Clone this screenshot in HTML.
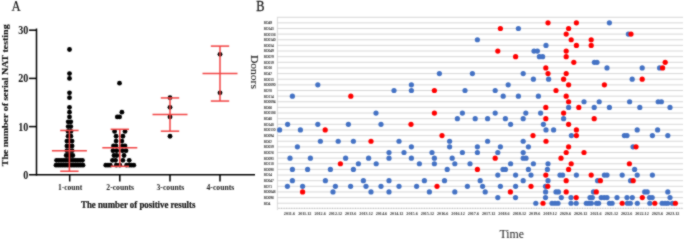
<!DOCTYPE html>
<html><head><meta charset="utf-8"><style>
html,body{margin:0;padding:0;background:#fff;}
body{width:685px;height:240px;overflow:hidden;font-family:"Liberation Serif",serif;}
svg{display:block;will-change:transform;}
</style></head><body>
<svg width="685" height="240" viewBox="0 0 685 240">
<defs><filter id="soft" x="0" y="0" width="685" height="240" filterUnits="userSpaceOnUse" color-interpolation-filters="sRGB"><feConvolveMatrix order="3" kernelMatrix="1 2 1 2 12 2 1 2 1" divisor="24" edgeMode="duplicate" preserveAlpha="true"/></filter></defs>
<g filter="url(#soft)">
<rect width="685" height="240" fill="#fff"/>
<text transform="translate(11.6,10.8) scale(0.9,1)" font-family="Liberation Serif" font-size="14.2" fill="#1a1a1a" stroke="#1a1a1a" stroke-width="0.2">A</text>
<line x1="36.5" y1="28.50" x2="36.5" y2="175.55" stroke="#000" stroke-width="1.5"/>
<line x1="29" y1="174.8" x2="255" y2="174.8" stroke="#000" stroke-width="1.5"/>
<line x1="29" y1="126.60" x2="36.5" y2="126.60" stroke="#000" stroke-width="1.5"/>
<line x1="29" y1="78.40" x2="36.5" y2="78.40" stroke="#000" stroke-width="1.5"/>
<line x1="29" y1="30.20" x2="36.5" y2="30.20" stroke="#000" stroke-width="1.5"/>
<text transform="translate(28.3,178.85) scale(0.86,1)" text-anchor="end" font-family="Liberation Serif" font-weight="bold" font-size="11.8" fill="#151515">0</text>
<text transform="translate(28.3,130.65) scale(0.86,1)" text-anchor="end" font-family="Liberation Serif" font-weight="bold" font-size="11.8" fill="#151515">10</text>
<text transform="translate(28.3,82.45) scale(0.86,1)" text-anchor="end" font-family="Liberation Serif" font-weight="bold" font-size="11.8" fill="#151515">20</text>
<text transform="translate(28.3,34.25) scale(0.86,1)" text-anchor="end" font-family="Liberation Serif" font-weight="bold" font-size="11.8" fill="#151515">30</text>
<line x1="69.7" y1="174.8" x2="69.7" y2="181.5" stroke="#000" stroke-width="1.5"/>
<text x="70.10" y="190.2" text-anchor="middle" textLength="24.4" lengthAdjust="spacingAndGlyphs" font-family="Liberation Serif" font-weight="bold" font-size="8.2" fill="#222">1-count</text>
<line x1="119.8" y1="174.8" x2="119.8" y2="181.5" stroke="#000" stroke-width="1.5"/>
<text x="120.20" y="190.2" text-anchor="middle" textLength="27.8" lengthAdjust="spacingAndGlyphs" font-family="Liberation Serif" font-weight="bold" font-size="8.2" fill="#222">2-counts</text>
<line x1="170" y1="174.8" x2="170" y2="181.5" stroke="#000" stroke-width="1.5"/>
<text x="170.40" y="190.2" text-anchor="middle" textLength="27.8" lengthAdjust="spacingAndGlyphs" font-family="Liberation Serif" font-weight="bold" font-size="8.2" fill="#222">3-counts</text>
<line x1="220" y1="174.8" x2="220" y2="181.5" stroke="#000" stroke-width="1.5"/>
<text x="220.40" y="190.2" text-anchor="middle" textLength="27.8" lengthAdjust="spacingAndGlyphs" font-family="Liberation Serif" font-weight="bold" font-size="8.2" fill="#222">4-counts</text>
<text x="81" y="208" textLength="114.4" lengthAdjust="spacingAndGlyphs" font-family="Liberation Serif" font-weight="bold" font-size="9.4" fill="#111" stroke="#111" stroke-width="0.2">The number of positive results</text>
<text transform="translate(8.1,166.2) scale(0.88,1) rotate(-90)" x="0" y="0" textLength="141.8" lengthAdjust="spacingAndGlyphs" font-family="Liberation Serif" font-weight="bold" font-size="9.9" fill="#111" stroke="#111" stroke-width="0.15">The number of serial NAT testing</text>
<circle cx="69.50" cy="49.48" r="2.4" fill="#000"/>
<circle cx="69.50" cy="73.58" r="2.4" fill="#000"/>
<circle cx="69.50" cy="78.40" r="2.4" fill="#000"/>
<circle cx="69.50" cy="92.86" r="2.4" fill="#000"/>
<circle cx="69.50" cy="97.68" r="2.4" fill="#000"/>
<circle cx="69.50" cy="107.32" r="2.4" fill="#000"/>
<circle cx="69.50" cy="112.14" r="2.4" fill="#000"/>
<circle cx="69.50" cy="116.96" r="2.4" fill="#000"/>
<circle cx="68.20" cy="121.78" r="2.4" fill="#000"/>
<circle cx="70.80" cy="121.78" r="2.4" fill="#000"/>
<circle cx="68.20" cy="126.60" r="2.4" fill="#000"/>
<circle cx="70.80" cy="126.60" r="2.4" fill="#000"/>
<circle cx="68.10" cy="131.42" r="2.4" fill="#000"/>
<circle cx="70.90" cy="131.42" r="2.4" fill="#000"/>
<circle cx="68.10" cy="136.24" r="2.4" fill="#000"/>
<circle cx="70.90" cy="136.24" r="2.4" fill="#000"/>
<circle cx="66.90" cy="141.06" r="2.4" fill="#000"/>
<circle cx="69.50" cy="141.06" r="2.4" fill="#000"/>
<circle cx="72.10" cy="141.06" r="2.4" fill="#000"/>
<circle cx="66.90" cy="145.88" r="2.4" fill="#000"/>
<circle cx="69.50" cy="145.88" r="2.4" fill="#000"/>
<circle cx="72.10" cy="145.88" r="2.4" fill="#000"/>
<circle cx="66.90" cy="150.70" r="2.4" fill="#000"/>
<circle cx="69.50" cy="150.70" r="2.4" fill="#000"/>
<circle cx="72.10" cy="150.70" r="2.4" fill="#000"/>
<circle cx="66.20" cy="155.52" r="2.4" fill="#000"/>
<circle cx="68.40" cy="155.52" r="2.4" fill="#000"/>
<circle cx="70.60" cy="155.52" r="2.4" fill="#000"/>
<circle cx="72.80" cy="155.52" r="2.4" fill="#000"/>
<circle cx="56.58" cy="160.34" r="2.4" fill="#000"/>
<circle cx="58.92" cy="160.34" r="2.4" fill="#000"/>
<circle cx="61.27" cy="160.34" r="2.4" fill="#000"/>
<circle cx="63.62" cy="160.34" r="2.4" fill="#000"/>
<circle cx="65.97" cy="160.34" r="2.4" fill="#000"/>
<circle cx="68.33" cy="160.34" r="2.4" fill="#000"/>
<circle cx="70.67" cy="160.34" r="2.4" fill="#000"/>
<circle cx="73.03" cy="160.34" r="2.4" fill="#000"/>
<circle cx="75.38" cy="160.34" r="2.4" fill="#000"/>
<circle cx="77.72" cy="160.34" r="2.4" fill="#000"/>
<circle cx="80.08" cy="160.34" r="2.4" fill="#000"/>
<circle cx="82.42" cy="160.34" r="2.4" fill="#000"/>
<circle cx="56.00" cy="165.16" r="2.4" fill="#000"/>
<circle cx="58.25" cy="165.16" r="2.4" fill="#000"/>
<circle cx="60.50" cy="165.16" r="2.4" fill="#000"/>
<circle cx="62.75" cy="165.16" r="2.4" fill="#000"/>
<circle cx="65.00" cy="165.16" r="2.4" fill="#000"/>
<circle cx="67.25" cy="165.16" r="2.4" fill="#000"/>
<circle cx="69.50" cy="165.16" r="2.4" fill="#000"/>
<circle cx="71.75" cy="165.16" r="2.4" fill="#000"/>
<circle cx="74.00" cy="165.16" r="2.4" fill="#000"/>
<circle cx="76.25" cy="165.16" r="2.4" fill="#000"/>
<circle cx="78.50" cy="165.16" r="2.4" fill="#000"/>
<circle cx="80.75" cy="165.16" r="2.4" fill="#000"/>
<circle cx="83.00" cy="165.16" r="2.4" fill="#000"/>
<circle cx="119.50" cy="83.22" r="2.4" fill="#000"/>
<circle cx="121.90" cy="112.14" r="2.4" fill="#000"/>
<circle cx="117.30" cy="116.96" r="2.4" fill="#000"/>
<circle cx="119.60" cy="116.96" r="2.4" fill="#000"/>
<circle cx="114.60" cy="131.42" r="2.4" fill="#000"/>
<circle cx="125.00" cy="131.42" r="2.4" fill="#000"/>
<circle cx="116.10" cy="136.24" r="2.4" fill="#000"/>
<circle cx="122.90" cy="136.24" r="2.4" fill="#000"/>
<circle cx="116.10" cy="141.06" r="2.4" fill="#000"/>
<circle cx="121.90" cy="141.06" r="2.4" fill="#000"/>
<circle cx="113.50" cy="145.88" r="2.4" fill="#000"/>
<circle cx="116.00" cy="145.88" r="2.4" fill="#000"/>
<circle cx="122.50" cy="145.88" r="2.4" fill="#000"/>
<circle cx="125.00" cy="145.88" r="2.4" fill="#000"/>
<circle cx="113.00" cy="150.70" r="2.4" fill="#000"/>
<circle cx="116.70" cy="150.70" r="2.4" fill="#000"/>
<circle cx="122.40" cy="150.70" r="2.4" fill="#000"/>
<circle cx="126.00" cy="150.70" r="2.4" fill="#000"/>
<circle cx="114.00" cy="155.52" r="2.4" fill="#000"/>
<circle cx="116.80" cy="155.52" r="2.4" fill="#000"/>
<circle cx="124.00" cy="155.52" r="2.4" fill="#000"/>
<circle cx="112.50" cy="160.34" r="2.4" fill="#000"/>
<circle cx="115.60" cy="160.34" r="2.4" fill="#000"/>
<circle cx="122.90" cy="160.34" r="2.4" fill="#000"/>
<circle cx="129.20" cy="160.34" r="2.4" fill="#000"/>
<circle cx="105.80" cy="165.16" r="2.4" fill="#000"/>
<circle cx="108.00" cy="165.16" r="2.4" fill="#000"/>
<circle cx="110.30" cy="165.16" r="2.4" fill="#000"/>
<circle cx="116.30" cy="165.16" r="2.4" fill="#000"/>
<circle cx="119.80" cy="165.16" r="2.4" fill="#000"/>
<circle cx="126.60" cy="165.16" r="2.4" fill="#000"/>
<circle cx="129.30" cy="165.16" r="2.4" fill="#000"/>
<circle cx="131.60" cy="165.16" r="2.4" fill="#000"/>
<circle cx="133.80" cy="165.16" r="2.4" fill="#000"/>
<circle cx="170.00" cy="97.68" r="2.4" fill="#000"/>
<circle cx="170.00" cy="107.32" r="2.4" fill="#000"/>
<circle cx="170.00" cy="116.96" r="2.4" fill="#000"/>
<circle cx="170.00" cy="136.24" r="2.4" fill="#000"/>
<circle cx="220.00" cy="54.30" r="2.4" fill="#000"/>
<circle cx="220.00" cy="92.86" r="2.4" fill="#000"/>
<line x1="69.4" y1="130.46" x2="69.4" y2="171.23" stroke="#f24444" stroke-width="1.5"/>
<line x1="60.2" y1="130.46" x2="78.60000000000001" y2="130.46" stroke="#f24444" stroke-width="1.5"/>
<line x1="60.2" y1="171.23" x2="78.60000000000001" y2="171.23" stroke="#f24444" stroke-width="1.5"/>
<line x1="51.900000000000006" y1="150.84" x2="86.9" y2="150.84" stroke="#f24444" stroke-width="1.5"/>
<line x1="119.8" y1="129.30" x2="119.8" y2="166.32" stroke="#f24444" stroke-width="1.5"/>
<line x1="110.6" y1="129.30" x2="129.0" y2="129.30" stroke="#f24444" stroke-width="1.5"/>
<line x1="110.6" y1="166.32" x2="129.0" y2="166.32" stroke="#f24444" stroke-width="1.5"/>
<line x1="102.3" y1="147.81" x2="137.3" y2="147.81" stroke="#f24444" stroke-width="1.5"/>
<line x1="170" y1="97.92" x2="170" y2="131.18" stroke="#f24444" stroke-width="1.5"/>
<line x1="160.8" y1="97.92" x2="179.2" y2="97.92" stroke="#f24444" stroke-width="1.5"/>
<line x1="160.8" y1="131.18" x2="179.2" y2="131.18" stroke="#f24444" stroke-width="1.5"/>
<line x1="152.5" y1="114.55" x2="187.5" y2="114.55" stroke="#f24444" stroke-width="1.5"/>
<line x1="220" y1="46.11" x2="220" y2="101.05" stroke="#f24444" stroke-width="1.5"/>
<line x1="210.8" y1="46.11" x2="229.2" y2="46.11" stroke="#f24444" stroke-width="1.5"/>
<line x1="210.8" y1="101.05" x2="229.2" y2="101.05" stroke="#f24444" stroke-width="1.5"/>
<line x1="202.5" y1="73.58" x2="237.5" y2="73.58" stroke="#f24444" stroke-width="1.5"/>
<text transform="translate(256.2,10.6) scale(0.85,1)" font-family="Liberation Serif" font-size="14.5" fill="#1a1a1a" stroke="#1a1a1a" stroke-width="0.3">B</text>
<line x1="277" y1="17.3" x2="683" y2="17.3" stroke="#d2d2d2" stroke-width="0.9"/>
<line x1="277" y1="22.85" x2="683" y2="22.85" stroke="#d2d2d2" stroke-width="0.9"/>
<line x1="277" y1="28.49" x2="683" y2="28.49" stroke="#d2d2d2" stroke-width="0.9"/>
<line x1="277" y1="34.12" x2="683" y2="34.12" stroke="#d2d2d2" stroke-width="0.9"/>
<line x1="277" y1="39.76" x2="683" y2="39.76" stroke="#d2d2d2" stroke-width="0.9"/>
<line x1="277" y1="45.40" x2="683" y2="45.40" stroke="#d2d2d2" stroke-width="0.9"/>
<line x1="277" y1="51.03" x2="683" y2="51.03" stroke="#d2d2d2" stroke-width="0.9"/>
<line x1="277" y1="56.67" x2="683" y2="56.67" stroke="#d2d2d2" stroke-width="0.9"/>
<line x1="277" y1="62.31" x2="683" y2="62.31" stroke="#d2d2d2" stroke-width="0.9"/>
<line x1="277" y1="67.95" x2="683" y2="67.95" stroke="#d2d2d2" stroke-width="0.9"/>
<line x1="277" y1="73.58" x2="683" y2="73.58" stroke="#d2d2d2" stroke-width="0.9"/>
<line x1="277" y1="79.22" x2="683" y2="79.22" stroke="#d2d2d2" stroke-width="0.9"/>
<line x1="277" y1="84.86" x2="683" y2="84.86" stroke="#d2d2d2" stroke-width="0.9"/>
<line x1="277" y1="90.49" x2="683" y2="90.49" stroke="#d2d2d2" stroke-width="0.9"/>
<line x1="277" y1="96.13" x2="683" y2="96.13" stroke="#d2d2d2" stroke-width="0.9"/>
<line x1="277" y1="101.77" x2="683" y2="101.77" stroke="#d2d2d2" stroke-width="0.9"/>
<line x1="277" y1="107.41" x2="683" y2="107.41" stroke="#d2d2d2" stroke-width="0.9"/>
<line x1="277" y1="113.04" x2="683" y2="113.04" stroke="#d2d2d2" stroke-width="0.9"/>
<line x1="277" y1="118.68" x2="683" y2="118.68" stroke="#d2d2d2" stroke-width="0.9"/>
<line x1="277" y1="124.32" x2="683" y2="124.32" stroke="#d2d2d2" stroke-width="0.9"/>
<line x1="277" y1="129.95" x2="683" y2="129.95" stroke="#d2d2d2" stroke-width="0.9"/>
<line x1="277" y1="135.59" x2="683" y2="135.59" stroke="#d2d2d2" stroke-width="0.9"/>
<line x1="277" y1="141.23" x2="683" y2="141.23" stroke="#d2d2d2" stroke-width="0.9"/>
<line x1="277" y1="146.86" x2="683" y2="146.86" stroke="#d2d2d2" stroke-width="0.9"/>
<line x1="277" y1="152.50" x2="683" y2="152.50" stroke="#d2d2d2" stroke-width="0.9"/>
<line x1="277" y1="158.14" x2="683" y2="158.14" stroke="#d2d2d2" stroke-width="0.9"/>
<line x1="277" y1="163.77" x2="683" y2="163.77" stroke="#d2d2d2" stroke-width="0.9"/>
<line x1="277" y1="169.41" x2="683" y2="169.41" stroke="#d2d2d2" stroke-width="0.9"/>
<line x1="277" y1="175.05" x2="683" y2="175.05" stroke="#d2d2d2" stroke-width="0.9"/>
<line x1="277" y1="180.69" x2="683" y2="180.69" stroke="#d2d2d2" stroke-width="0.9"/>
<line x1="277" y1="186.32" x2="683" y2="186.32" stroke="#d2d2d2" stroke-width="0.9"/>
<line x1="277" y1="191.96" x2="683" y2="191.96" stroke="#d2d2d2" stroke-width="0.9"/>
<line x1="277" y1="197.60" x2="683" y2="197.60" stroke="#d2d2d2" stroke-width="0.9"/>
<line x1="277" y1="203.23" x2="683" y2="203.23" stroke="#d2d2d2" stroke-width="0.9"/>
<line x1="277.4" y1="17.3" x2="277.4" y2="210.17" stroke="#d0d0d0" stroke-width="0.8"/>
<line x1="277" y1="208.4" x2="683" y2="208.4" stroke="#dcdcdc" stroke-width="0.8"/>
<line x1="279.00" y1="207.7" x2="279.00" y2="209.0" stroke="#b8b8b8" stroke-width="0.8"/>
<line x1="281.55" y1="207.7" x2="281.55" y2="209.0" stroke="#b8b8b8" stroke-width="0.8"/>
<line x1="284.10" y1="207.7" x2="284.10" y2="209.0" stroke="#b8b8b8" stroke-width="0.8"/>
<line x1="286.65" y1="207.7" x2="286.65" y2="209.0" stroke="#b8b8b8" stroke-width="0.8"/>
<line x1="289.20" y1="207.7" x2="289.20" y2="209.0" stroke="#b8b8b8" stroke-width="0.8"/>
<line x1="291.75" y1="207.7" x2="291.75" y2="209.0" stroke="#b8b8b8" stroke-width="0.8"/>
<line x1="294.30" y1="207.7" x2="294.30" y2="209.0" stroke="#b8b8b8" stroke-width="0.8"/>
<line x1="296.85" y1="207.7" x2="296.85" y2="209.0" stroke="#b8b8b8" stroke-width="0.8"/>
<line x1="299.40" y1="207.7" x2="299.40" y2="209.0" stroke="#b8b8b8" stroke-width="0.8"/>
<line x1="301.95" y1="207.7" x2="301.95" y2="209.0" stroke="#b8b8b8" stroke-width="0.8"/>
<line x1="304.50" y1="207.7" x2="304.50" y2="209.0" stroke="#b8b8b8" stroke-width="0.8"/>
<line x1="307.05" y1="207.7" x2="307.05" y2="209.0" stroke="#b8b8b8" stroke-width="0.8"/>
<line x1="309.60" y1="207.7" x2="309.60" y2="209.0" stroke="#b8b8b8" stroke-width="0.8"/>
<line x1="312.15" y1="207.7" x2="312.15" y2="209.0" stroke="#b8b8b8" stroke-width="0.8"/>
<line x1="314.70" y1="207.7" x2="314.70" y2="209.0" stroke="#b8b8b8" stroke-width="0.8"/>
<line x1="317.25" y1="207.7" x2="317.25" y2="209.0" stroke="#b8b8b8" stroke-width="0.8"/>
<line x1="319.80" y1="207.7" x2="319.80" y2="209.0" stroke="#b8b8b8" stroke-width="0.8"/>
<line x1="322.35" y1="207.7" x2="322.35" y2="209.0" stroke="#b8b8b8" stroke-width="0.8"/>
<line x1="324.90" y1="207.7" x2="324.90" y2="209.0" stroke="#b8b8b8" stroke-width="0.8"/>
<line x1="327.45" y1="207.7" x2="327.45" y2="209.0" stroke="#b8b8b8" stroke-width="0.8"/>
<line x1="330.00" y1="207.7" x2="330.00" y2="209.0" stroke="#b8b8b8" stroke-width="0.8"/>
<line x1="332.55" y1="207.7" x2="332.55" y2="209.0" stroke="#b8b8b8" stroke-width="0.8"/>
<line x1="335.10" y1="207.7" x2="335.10" y2="209.0" stroke="#b8b8b8" stroke-width="0.8"/>
<line x1="337.65" y1="207.7" x2="337.65" y2="209.0" stroke="#b8b8b8" stroke-width="0.8"/>
<line x1="340.20" y1="207.7" x2="340.20" y2="209.0" stroke="#b8b8b8" stroke-width="0.8"/>
<line x1="342.75" y1="207.7" x2="342.75" y2="209.0" stroke="#b8b8b8" stroke-width="0.8"/>
<line x1="345.30" y1="207.7" x2="345.30" y2="209.0" stroke="#b8b8b8" stroke-width="0.8"/>
<line x1="347.85" y1="207.7" x2="347.85" y2="209.0" stroke="#b8b8b8" stroke-width="0.8"/>
<line x1="350.40" y1="207.7" x2="350.40" y2="209.0" stroke="#b8b8b8" stroke-width="0.8"/>
<line x1="352.95" y1="207.7" x2="352.95" y2="209.0" stroke="#b8b8b8" stroke-width="0.8"/>
<line x1="355.50" y1="207.7" x2="355.50" y2="209.0" stroke="#b8b8b8" stroke-width="0.8"/>
<line x1="358.05" y1="207.7" x2="358.05" y2="209.0" stroke="#b8b8b8" stroke-width="0.8"/>
<line x1="360.60" y1="207.7" x2="360.60" y2="209.0" stroke="#b8b8b8" stroke-width="0.8"/>
<line x1="363.15" y1="207.7" x2="363.15" y2="209.0" stroke="#b8b8b8" stroke-width="0.8"/>
<line x1="365.70" y1="207.7" x2="365.70" y2="209.0" stroke="#b8b8b8" stroke-width="0.8"/>
<line x1="368.25" y1="207.7" x2="368.25" y2="209.0" stroke="#b8b8b8" stroke-width="0.8"/>
<line x1="370.80" y1="207.7" x2="370.80" y2="209.0" stroke="#b8b8b8" stroke-width="0.8"/>
<line x1="373.35" y1="207.7" x2="373.35" y2="209.0" stroke="#b8b8b8" stroke-width="0.8"/>
<line x1="375.90" y1="207.7" x2="375.90" y2="209.0" stroke="#b8b8b8" stroke-width="0.8"/>
<line x1="378.45" y1="207.7" x2="378.45" y2="209.0" stroke="#b8b8b8" stroke-width="0.8"/>
<line x1="381.00" y1="207.7" x2="381.00" y2="209.0" stroke="#b8b8b8" stroke-width="0.8"/>
<line x1="383.55" y1="207.7" x2="383.55" y2="209.0" stroke="#b8b8b8" stroke-width="0.8"/>
<line x1="386.10" y1="207.7" x2="386.10" y2="209.0" stroke="#b8b8b8" stroke-width="0.8"/>
<line x1="388.65" y1="207.7" x2="388.65" y2="209.0" stroke="#b8b8b8" stroke-width="0.8"/>
<line x1="391.20" y1="207.7" x2="391.20" y2="209.0" stroke="#b8b8b8" stroke-width="0.8"/>
<line x1="393.75" y1="207.7" x2="393.75" y2="209.0" stroke="#b8b8b8" stroke-width="0.8"/>
<line x1="396.30" y1="207.7" x2="396.30" y2="209.0" stroke="#b8b8b8" stroke-width="0.8"/>
<line x1="398.85" y1="207.7" x2="398.85" y2="209.0" stroke="#b8b8b8" stroke-width="0.8"/>
<line x1="401.40" y1="207.7" x2="401.40" y2="209.0" stroke="#b8b8b8" stroke-width="0.8"/>
<line x1="403.95" y1="207.7" x2="403.95" y2="209.0" stroke="#b8b8b8" stroke-width="0.8"/>
<line x1="406.50" y1="207.7" x2="406.50" y2="209.0" stroke="#b8b8b8" stroke-width="0.8"/>
<line x1="409.05" y1="207.7" x2="409.05" y2="209.0" stroke="#b8b8b8" stroke-width="0.8"/>
<line x1="411.60" y1="207.7" x2="411.60" y2="209.0" stroke="#b8b8b8" stroke-width="0.8"/>
<line x1="414.15" y1="207.7" x2="414.15" y2="209.0" stroke="#b8b8b8" stroke-width="0.8"/>
<line x1="416.70" y1="207.7" x2="416.70" y2="209.0" stroke="#b8b8b8" stroke-width="0.8"/>
<line x1="419.25" y1="207.7" x2="419.25" y2="209.0" stroke="#b8b8b8" stroke-width="0.8"/>
<line x1="421.80" y1="207.7" x2="421.80" y2="209.0" stroke="#b8b8b8" stroke-width="0.8"/>
<line x1="424.35" y1="207.7" x2="424.35" y2="209.0" stroke="#b8b8b8" stroke-width="0.8"/>
<line x1="426.90" y1="207.7" x2="426.90" y2="209.0" stroke="#b8b8b8" stroke-width="0.8"/>
<line x1="429.45" y1="207.7" x2="429.45" y2="209.0" stroke="#b8b8b8" stroke-width="0.8"/>
<line x1="432.00" y1="207.7" x2="432.00" y2="209.0" stroke="#b8b8b8" stroke-width="0.8"/>
<line x1="434.55" y1="207.7" x2="434.55" y2="209.0" stroke="#b8b8b8" stroke-width="0.8"/>
<line x1="437.10" y1="207.7" x2="437.10" y2="209.0" stroke="#b8b8b8" stroke-width="0.8"/>
<line x1="439.65" y1="207.7" x2="439.65" y2="209.0" stroke="#b8b8b8" stroke-width="0.8"/>
<line x1="442.20" y1="207.7" x2="442.20" y2="209.0" stroke="#b8b8b8" stroke-width="0.8"/>
<line x1="444.75" y1="207.7" x2="444.75" y2="209.0" stroke="#b8b8b8" stroke-width="0.8"/>
<line x1="447.30" y1="207.7" x2="447.30" y2="209.0" stroke="#b8b8b8" stroke-width="0.8"/>
<line x1="449.85" y1="207.7" x2="449.85" y2="209.0" stroke="#b8b8b8" stroke-width="0.8"/>
<line x1="452.40" y1="207.7" x2="452.40" y2="209.0" stroke="#b8b8b8" stroke-width="0.8"/>
<line x1="454.95" y1="207.7" x2="454.95" y2="209.0" stroke="#b8b8b8" stroke-width="0.8"/>
<line x1="457.50" y1="207.7" x2="457.50" y2="209.0" stroke="#b8b8b8" stroke-width="0.8"/>
<line x1="460.05" y1="207.7" x2="460.05" y2="209.0" stroke="#b8b8b8" stroke-width="0.8"/>
<line x1="462.60" y1="207.7" x2="462.60" y2="209.0" stroke="#b8b8b8" stroke-width="0.8"/>
<line x1="465.15" y1="207.7" x2="465.15" y2="209.0" stroke="#b8b8b8" stroke-width="0.8"/>
<line x1="467.70" y1="207.7" x2="467.70" y2="209.0" stroke="#b8b8b8" stroke-width="0.8"/>
<line x1="470.25" y1="207.7" x2="470.25" y2="209.0" stroke="#b8b8b8" stroke-width="0.8"/>
<line x1="472.80" y1="207.7" x2="472.80" y2="209.0" stroke="#b8b8b8" stroke-width="0.8"/>
<line x1="475.35" y1="207.7" x2="475.35" y2="209.0" stroke="#b8b8b8" stroke-width="0.8"/>
<line x1="477.90" y1="207.7" x2="477.90" y2="209.0" stroke="#b8b8b8" stroke-width="0.8"/>
<line x1="480.45" y1="207.7" x2="480.45" y2="209.0" stroke="#b8b8b8" stroke-width="0.8"/>
<line x1="483.00" y1="207.7" x2="483.00" y2="209.0" stroke="#b8b8b8" stroke-width="0.8"/>
<line x1="485.55" y1="207.7" x2="485.55" y2="209.0" stroke="#b8b8b8" stroke-width="0.8"/>
<line x1="488.10" y1="207.7" x2="488.10" y2="209.0" stroke="#b8b8b8" stroke-width="0.8"/>
<line x1="490.65" y1="207.7" x2="490.65" y2="209.0" stroke="#b8b8b8" stroke-width="0.8"/>
<line x1="493.20" y1="207.7" x2="493.20" y2="209.0" stroke="#b8b8b8" stroke-width="0.8"/>
<line x1="495.75" y1="207.7" x2="495.75" y2="209.0" stroke="#b8b8b8" stroke-width="0.8"/>
<line x1="498.30" y1="207.7" x2="498.30" y2="209.0" stroke="#b8b8b8" stroke-width="0.8"/>
<line x1="500.85" y1="207.7" x2="500.85" y2="209.0" stroke="#b8b8b8" stroke-width="0.8"/>
<line x1="503.40" y1="207.7" x2="503.40" y2="209.0" stroke="#b8b8b8" stroke-width="0.8"/>
<line x1="505.95" y1="207.7" x2="505.95" y2="209.0" stroke="#b8b8b8" stroke-width="0.8"/>
<line x1="508.50" y1="207.7" x2="508.50" y2="209.0" stroke="#b8b8b8" stroke-width="0.8"/>
<line x1="511.05" y1="207.7" x2="511.05" y2="209.0" stroke="#b8b8b8" stroke-width="0.8"/>
<line x1="513.60" y1="207.7" x2="513.60" y2="209.0" stroke="#b8b8b8" stroke-width="0.8"/>
<line x1="516.15" y1="207.7" x2="516.15" y2="209.0" stroke="#b8b8b8" stroke-width="0.8"/>
<line x1="518.70" y1="207.7" x2="518.70" y2="209.0" stroke="#b8b8b8" stroke-width="0.8"/>
<line x1="521.25" y1="207.7" x2="521.25" y2="209.0" stroke="#b8b8b8" stroke-width="0.8"/>
<line x1="523.80" y1="207.7" x2="523.80" y2="209.0" stroke="#b8b8b8" stroke-width="0.8"/>
<line x1="526.35" y1="207.7" x2="526.35" y2="209.0" stroke="#b8b8b8" stroke-width="0.8"/>
<line x1="528.90" y1="207.7" x2="528.90" y2="209.0" stroke="#b8b8b8" stroke-width="0.8"/>
<line x1="531.45" y1="207.7" x2="531.45" y2="209.0" stroke="#b8b8b8" stroke-width="0.8"/>
<line x1="534.00" y1="207.7" x2="534.00" y2="209.0" stroke="#b8b8b8" stroke-width="0.8"/>
<line x1="536.55" y1="207.7" x2="536.55" y2="209.0" stroke="#b8b8b8" stroke-width="0.8"/>
<line x1="539.10" y1="207.7" x2="539.10" y2="209.0" stroke="#b8b8b8" stroke-width="0.8"/>
<line x1="541.65" y1="207.7" x2="541.65" y2="209.0" stroke="#b8b8b8" stroke-width="0.8"/>
<line x1="544.20" y1="207.7" x2="544.20" y2="209.0" stroke="#b8b8b8" stroke-width="0.8"/>
<line x1="546.75" y1="207.7" x2="546.75" y2="209.0" stroke="#b8b8b8" stroke-width="0.8"/>
<line x1="549.30" y1="207.7" x2="549.30" y2="209.0" stroke="#b8b8b8" stroke-width="0.8"/>
<line x1="551.85" y1="207.7" x2="551.85" y2="209.0" stroke="#b8b8b8" stroke-width="0.8"/>
<line x1="554.40" y1="207.7" x2="554.40" y2="209.0" stroke="#b8b8b8" stroke-width="0.8"/>
<line x1="556.95" y1="207.7" x2="556.95" y2="209.0" stroke="#b8b8b8" stroke-width="0.8"/>
<line x1="559.50" y1="207.7" x2="559.50" y2="209.0" stroke="#b8b8b8" stroke-width="0.8"/>
<line x1="562.05" y1="207.7" x2="562.05" y2="209.0" stroke="#b8b8b8" stroke-width="0.8"/>
<line x1="564.60" y1="207.7" x2="564.60" y2="209.0" stroke="#b8b8b8" stroke-width="0.8"/>
<line x1="567.15" y1="207.7" x2="567.15" y2="209.0" stroke="#b8b8b8" stroke-width="0.8"/>
<line x1="569.70" y1="207.7" x2="569.70" y2="209.0" stroke="#b8b8b8" stroke-width="0.8"/>
<line x1="572.25" y1="207.7" x2="572.25" y2="209.0" stroke="#b8b8b8" stroke-width="0.8"/>
<line x1="574.80" y1="207.7" x2="574.80" y2="209.0" stroke="#b8b8b8" stroke-width="0.8"/>
<line x1="577.35" y1="207.7" x2="577.35" y2="209.0" stroke="#b8b8b8" stroke-width="0.8"/>
<line x1="579.90" y1="207.7" x2="579.90" y2="209.0" stroke="#b8b8b8" stroke-width="0.8"/>
<line x1="582.45" y1="207.7" x2="582.45" y2="209.0" stroke="#b8b8b8" stroke-width="0.8"/>
<line x1="585.00" y1="207.7" x2="585.00" y2="209.0" stroke="#b8b8b8" stroke-width="0.8"/>
<line x1="587.55" y1="207.7" x2="587.55" y2="209.0" stroke="#b8b8b8" stroke-width="0.8"/>
<line x1="590.10" y1="207.7" x2="590.10" y2="209.0" stroke="#b8b8b8" stroke-width="0.8"/>
<line x1="592.65" y1="207.7" x2="592.65" y2="209.0" stroke="#b8b8b8" stroke-width="0.8"/>
<line x1="595.20" y1="207.7" x2="595.20" y2="209.0" stroke="#b8b8b8" stroke-width="0.8"/>
<line x1="597.75" y1="207.7" x2="597.75" y2="209.0" stroke="#b8b8b8" stroke-width="0.8"/>
<line x1="600.30" y1="207.7" x2="600.30" y2="209.0" stroke="#b8b8b8" stroke-width="0.8"/>
<line x1="602.85" y1="207.7" x2="602.85" y2="209.0" stroke="#b8b8b8" stroke-width="0.8"/>
<line x1="605.40" y1="207.7" x2="605.40" y2="209.0" stroke="#b8b8b8" stroke-width="0.8"/>
<line x1="607.95" y1="207.7" x2="607.95" y2="209.0" stroke="#b8b8b8" stroke-width="0.8"/>
<line x1="610.50" y1="207.7" x2="610.50" y2="209.0" stroke="#b8b8b8" stroke-width="0.8"/>
<line x1="613.05" y1="207.7" x2="613.05" y2="209.0" stroke="#b8b8b8" stroke-width="0.8"/>
<line x1="615.60" y1="207.7" x2="615.60" y2="209.0" stroke="#b8b8b8" stroke-width="0.8"/>
<line x1="618.15" y1="207.7" x2="618.15" y2="209.0" stroke="#b8b8b8" stroke-width="0.8"/>
<line x1="620.70" y1="207.7" x2="620.70" y2="209.0" stroke="#b8b8b8" stroke-width="0.8"/>
<line x1="623.25" y1="207.7" x2="623.25" y2="209.0" stroke="#b8b8b8" stroke-width="0.8"/>
<line x1="625.80" y1="207.7" x2="625.80" y2="209.0" stroke="#b8b8b8" stroke-width="0.8"/>
<line x1="628.35" y1="207.7" x2="628.35" y2="209.0" stroke="#b8b8b8" stroke-width="0.8"/>
<line x1="630.90" y1="207.7" x2="630.90" y2="209.0" stroke="#b8b8b8" stroke-width="0.8"/>
<line x1="633.45" y1="207.7" x2="633.45" y2="209.0" stroke="#b8b8b8" stroke-width="0.8"/>
<line x1="636.00" y1="207.7" x2="636.00" y2="209.0" stroke="#b8b8b8" stroke-width="0.8"/>
<line x1="638.55" y1="207.7" x2="638.55" y2="209.0" stroke="#b8b8b8" stroke-width="0.8"/>
<line x1="641.10" y1="207.7" x2="641.10" y2="209.0" stroke="#b8b8b8" stroke-width="0.8"/>
<line x1="643.65" y1="207.7" x2="643.65" y2="209.0" stroke="#b8b8b8" stroke-width="0.8"/>
<line x1="646.20" y1="207.7" x2="646.20" y2="209.0" stroke="#b8b8b8" stroke-width="0.8"/>
<line x1="648.75" y1="207.7" x2="648.75" y2="209.0" stroke="#b8b8b8" stroke-width="0.8"/>
<line x1="651.30" y1="207.7" x2="651.30" y2="209.0" stroke="#b8b8b8" stroke-width="0.8"/>
<line x1="653.85" y1="207.7" x2="653.85" y2="209.0" stroke="#b8b8b8" stroke-width="0.8"/>
<line x1="656.40" y1="207.7" x2="656.40" y2="209.0" stroke="#b8b8b8" stroke-width="0.8"/>
<line x1="658.95" y1="207.7" x2="658.95" y2="209.0" stroke="#b8b8b8" stroke-width="0.8"/>
<line x1="661.50" y1="207.7" x2="661.50" y2="209.0" stroke="#b8b8b8" stroke-width="0.8"/>
<line x1="664.05" y1="207.7" x2="664.05" y2="209.0" stroke="#b8b8b8" stroke-width="0.8"/>
<line x1="666.60" y1="207.7" x2="666.60" y2="209.0" stroke="#b8b8b8" stroke-width="0.8"/>
<line x1="669.15" y1="207.7" x2="669.15" y2="209.0" stroke="#b8b8b8" stroke-width="0.8"/>
<line x1="671.70" y1="207.7" x2="671.70" y2="209.0" stroke="#b8b8b8" stroke-width="0.8"/>
<line x1="674.25" y1="207.7" x2="674.25" y2="209.0" stroke="#b8b8b8" stroke-width="0.8"/>
<line x1="676.80" y1="207.7" x2="676.80" y2="209.0" stroke="#b8b8b8" stroke-width="0.8"/>
<line x1="679.35" y1="207.7" x2="679.35" y2="209.0" stroke="#b8b8b8" stroke-width="0.8"/>
<line x1="681.90" y1="207.7" x2="681.90" y2="209.0" stroke="#b8b8b8" stroke-width="0.8"/>
<text transform="translate(289.40,215.1) scale(0.95,1)" text-anchor="middle" font-family="Liberation Serif" font-weight="bold" font-size="4.35" fill="#2a2a2a">2011.6</text>
<text transform="translate(304.73,215.1) scale(0.95,1)" text-anchor="middle" font-family="Liberation Serif" font-weight="bold" font-size="4.35" fill="#2a2a2a">2011.12</text>
<text transform="translate(320.06,215.1) scale(0.95,1)" text-anchor="middle" font-family="Liberation Serif" font-weight="bold" font-size="4.35" fill="#2a2a2a">2012.6</text>
<text transform="translate(335.39,215.1) scale(0.95,1)" text-anchor="middle" font-family="Liberation Serif" font-weight="bold" font-size="4.35" fill="#2a2a2a">2012.12</text>
<text transform="translate(350.72,215.1) scale(0.95,1)" text-anchor="middle" font-family="Liberation Serif" font-weight="bold" font-size="4.35" fill="#2a2a2a">2013.6</text>
<text transform="translate(366.05,215.1) scale(0.95,1)" text-anchor="middle" font-family="Liberation Serif" font-weight="bold" font-size="4.35" fill="#2a2a2a">2013.12</text>
<text transform="translate(381.38,215.1) scale(0.95,1)" text-anchor="middle" font-family="Liberation Serif" font-weight="bold" font-size="4.35" fill="#2a2a2a">2014.6</text>
<text transform="translate(396.71,215.1) scale(0.95,1)" text-anchor="middle" font-family="Liberation Serif" font-weight="bold" font-size="4.35" fill="#2a2a2a">2014.12</text>
<text transform="translate(412.04,215.1) scale(0.95,1)" text-anchor="middle" font-family="Liberation Serif" font-weight="bold" font-size="4.35" fill="#2a2a2a">2015.6</text>
<text transform="translate(427.37,215.1) scale(0.95,1)" text-anchor="middle" font-family="Liberation Serif" font-weight="bold" font-size="4.35" fill="#2a2a2a">2015.12</text>
<text transform="translate(442.70,215.1) scale(0.95,1)" text-anchor="middle" font-family="Liberation Serif" font-weight="bold" font-size="4.35" fill="#2a2a2a">2016.6</text>
<text transform="translate(458.03,215.1) scale(0.95,1)" text-anchor="middle" font-family="Liberation Serif" font-weight="bold" font-size="4.35" fill="#2a2a2a">2016.12</text>
<text transform="translate(473.36,215.1) scale(0.95,1)" text-anchor="middle" font-family="Liberation Serif" font-weight="bold" font-size="4.35" fill="#2a2a2a">2017.6</text>
<text transform="translate(488.69,215.1) scale(0.95,1)" text-anchor="middle" font-family="Liberation Serif" font-weight="bold" font-size="4.35" fill="#2a2a2a">2017.12</text>
<text transform="translate(504.02,215.1) scale(0.95,1)" text-anchor="middle" font-family="Liberation Serif" font-weight="bold" font-size="4.35" fill="#2a2a2a">2018.6</text>
<text transform="translate(519.35,215.1) scale(0.95,1)" text-anchor="middle" font-family="Liberation Serif" font-weight="bold" font-size="4.35" fill="#2a2a2a">2018.12</text>
<text transform="translate(534.68,215.1) scale(0.95,1)" text-anchor="middle" font-family="Liberation Serif" font-weight="bold" font-size="4.35" fill="#2a2a2a">2019.6</text>
<text transform="translate(550.01,215.1) scale(0.95,1)" text-anchor="middle" font-family="Liberation Serif" font-weight="bold" font-size="4.35" fill="#2a2a2a">2019.12</text>
<text transform="translate(565.34,215.1) scale(0.95,1)" text-anchor="middle" font-family="Liberation Serif" font-weight="bold" font-size="4.35" fill="#2a2a2a">2020.6</text>
<text transform="translate(580.67,215.1) scale(0.95,1)" text-anchor="middle" font-family="Liberation Serif" font-weight="bold" font-size="4.35" fill="#2a2a2a">2020.12</text>
<text transform="translate(596.00,215.1) scale(0.95,1)" text-anchor="middle" font-family="Liberation Serif" font-weight="bold" font-size="4.35" fill="#2a2a2a">2021.6</text>
<text transform="translate(611.33,215.1) scale(0.95,1)" text-anchor="middle" font-family="Liberation Serif" font-weight="bold" font-size="4.35" fill="#2a2a2a">2021.12</text>
<text transform="translate(626.66,215.1) scale(0.95,1)" text-anchor="middle" font-family="Liberation Serif" font-weight="bold" font-size="4.35" fill="#2a2a2a">2022.6</text>
<text transform="translate(641.99,215.1) scale(0.95,1)" text-anchor="middle" font-family="Liberation Serif" font-weight="bold" font-size="4.35" fill="#2a2a2a">2022.12</text>
<text transform="translate(657.32,215.1) scale(0.95,1)" text-anchor="middle" font-family="Liberation Serif" font-weight="bold" font-size="4.35" fill="#2a2a2a">2023.6</text>
<text transform="translate(672.65,215.1) scale(0.95,1)" text-anchor="middle" font-family="Liberation Serif" font-weight="bold" font-size="4.35" fill="#2a2a2a">2023.12</text>
<text transform="translate(263.7,24.25) scale(0.84,1)" font-family="Liberation Serif" font-size="4.2" fill="#333" stroke="#333" stroke-width="0.12">BD49</text>
<text transform="translate(263.7,29.89) scale(0.84,1)" font-family="Liberation Serif" font-size="4.2" fill="#333" stroke="#333" stroke-width="0.12">BD143</text>
<text transform="translate(263.7,35.52) scale(0.84,1)" font-family="Liberation Serif" font-size="4.2" fill="#333" stroke="#333" stroke-width="0.12">BD0136</text>
<text transform="translate(263.7,41.16) scale(0.84,1)" font-family="Liberation Serif" font-size="4.2" fill="#333" stroke="#333" stroke-width="0.12">BD0140</text>
<text transform="translate(263.7,46.80) scale(0.84,1)" font-family="Liberation Serif" font-size="4.2" fill="#333" stroke="#333" stroke-width="0.12">BD034</text>
<text transform="translate(263.7,52.43) scale(0.84,1)" font-family="Liberation Serif" font-size="4.2" fill="#333" stroke="#333" stroke-width="0.12">BD049</text>
<text transform="translate(263.7,58.07) scale(0.84,1)" font-family="Liberation Serif" font-size="4.2" fill="#333" stroke="#333" stroke-width="0.12">BD029</text>
<text transform="translate(263.7,63.71) scale(0.84,1)" font-family="Liberation Serif" font-size="4.2" fill="#333" stroke="#333" stroke-width="0.12">BD019</text>
<text transform="translate(263.7,69.35) scale(0.84,1)" font-family="Liberation Serif" font-size="4.2" fill="#333" stroke="#333" stroke-width="0.12">BD16</text>
<text transform="translate(263.7,74.98) scale(0.84,1)" font-family="Liberation Serif" font-size="4.2" fill="#333" stroke="#333" stroke-width="0.12">BD47</text>
<text transform="translate(263.7,80.62) scale(0.84,1)" font-family="Liberation Serif" font-size="4.2" fill="#333" stroke="#333" stroke-width="0.12">BD013</text>
<text transform="translate(263.7,86.26) scale(0.84,1)" font-family="Liberation Serif" font-size="4.2" fill="#333" stroke="#333" stroke-width="0.12">BD0090</text>
<text transform="translate(263.7,91.89) scale(0.84,1)" font-family="Liberation Serif" font-size="4.2" fill="#333" stroke="#333" stroke-width="0.12">BD78</text>
<text transform="translate(263.7,97.53) scale(0.84,1)" font-family="Liberation Serif" font-size="4.2" fill="#333" stroke="#333" stroke-width="0.12">BD114</text>
<text transform="translate(263.7,103.17) scale(0.84,1)" font-family="Liberation Serif" font-size="4.2" fill="#333" stroke="#333" stroke-width="0.12">BD0094</text>
<text transform="translate(263.7,108.81) scale(0.84,1)" font-family="Liberation Serif" font-size="4.2" fill="#333" stroke="#333" stroke-width="0.12">BD66</text>
<text transform="translate(263.7,114.44) scale(0.84,1)" font-family="Liberation Serif" font-size="4.2" fill="#333" stroke="#333" stroke-width="0.12">BD0106</text>
<text transform="translate(263.7,120.08) scale(0.84,1)" font-family="Liberation Serif" font-size="4.2" fill="#333" stroke="#333" stroke-width="0.12">BD40</text>
<text transform="translate(263.7,125.72) scale(0.84,1)" font-family="Liberation Serif" font-size="4.2" fill="#333" stroke="#333" stroke-width="0.12">BD140</text>
<text transform="translate(263.7,131.35) scale(0.84,1)" font-family="Liberation Serif" font-size="4.2" fill="#333" stroke="#333" stroke-width="0.12">BD0130</text>
<text transform="translate(263.7,136.99) scale(0.84,1)" font-family="Liberation Serif" font-size="4.2" fill="#333" stroke="#333" stroke-width="0.12">BD094</text>
<text transform="translate(263.7,142.63) scale(0.84,1)" font-family="Liberation Serif" font-size="4.2" fill="#333" stroke="#333" stroke-width="0.12">BD62</text>
<text transform="translate(263.7,148.26) scale(0.84,1)" font-family="Liberation Serif" font-size="4.2" fill="#333" stroke="#333" stroke-width="0.12">BD039</text>
<text transform="translate(263.7,153.90) scale(0.84,1)" font-family="Liberation Serif" font-size="4.2" fill="#333" stroke="#333" stroke-width="0.12">BD026</text>
<text transform="translate(263.7,159.54) scale(0.84,1)" font-family="Liberation Serif" font-size="4.2" fill="#333" stroke="#333" stroke-width="0.12">BD093</text>
<text transform="translate(263.7,165.17) scale(0.84,1)" font-family="Liberation Serif" font-size="4.2" fill="#333" stroke="#333" stroke-width="0.12">BD110</text>
<text transform="translate(263.7,170.81) scale(0.84,1)" font-family="Liberation Serif" font-size="4.2" fill="#333" stroke="#333" stroke-width="0.12">BD098</text>
<text transform="translate(263.7,176.45) scale(0.84,1)" font-family="Liberation Serif" font-size="4.2" fill="#333" stroke="#333" stroke-width="0.12">BD14</text>
<text transform="translate(263.7,182.09) scale(0.84,1)" font-family="Liberation Serif" font-size="4.2" fill="#333" stroke="#333" stroke-width="0.12">BD047</text>
<text transform="translate(263.7,187.72) scale(0.84,1)" font-family="Liberation Serif" font-size="4.2" fill="#333" stroke="#333" stroke-width="0.12">BD71</text>
<text transform="translate(263.7,193.36) scale(0.84,1)" font-family="Liberation Serif" font-size="4.2" fill="#333" stroke="#333" stroke-width="0.12">BD0048</text>
<text transform="translate(263.7,199.00) scale(0.84,1)" font-family="Liberation Serif" font-size="4.2" fill="#333" stroke="#333" stroke-width="0.12">BD096</text>
<text transform="translate(263.7,204.63) scale(0.84,1)" font-family="Liberation Serif" font-size="4.2" fill="#333" stroke="#333" stroke-width="0.12">BD4</text>
<text transform="translate(251.0,54.9) scale(0.88,1) rotate(90)" textLength="34" lengthAdjust="spacingAndGlyphs" font-family="Liberation Serif" font-size="11.7" fill="#1a1a1a" stroke="#1a1a1a" stroke-width="0.1">Donors</text>
<text x="499.5" y="237.8" textLength="24.5" lengthAdjust="spacingAndGlyphs" font-family="Liberation Serif" font-size="12" fill="#1a1a1a">Time</text>
<circle cx="548.0" cy="22.85" r="2.6" fill="#ff0000"/>
<circle cx="576.4" cy="22.85" r="2.6" fill="#ff0000"/>
<circle cx="609.4" cy="22.85" r="2.6" fill="#4472c4"/>
<circle cx="500.4" cy="28.49" r="2.6" fill="#ff0000"/>
<circle cx="518.4" cy="28.49" r="2.6" fill="#4472c4"/>
<circle cx="568.6" cy="28.49" r="2.6" fill="#ff0000"/>
<circle cx="566.2" cy="34.12" r="2.6" fill="#ff0000"/>
<circle cx="628.4" cy="34.12" r="2.6" fill="#4472c4"/>
<circle cx="631.0" cy="34.12" r="2.6" fill="#ff0000"/>
<circle cx="477.4" cy="39.76" r="2.6" fill="#4472c4"/>
<circle cx="571.2" cy="39.76" r="2.6" fill="#ff0000"/>
<circle cx="591.2" cy="39.76" r="2.6" fill="#ff0000"/>
<circle cx="546.0" cy="45.40" r="2.6" fill="#4472c4"/>
<circle cx="576.4" cy="45.40" r="2.6" fill="#ff0000"/>
<circle cx="591.2" cy="45.40" r="2.6" fill="#ff0000"/>
<circle cx="497.8" cy="51.03" r="2.6" fill="#ff0000"/>
<circle cx="534.0" cy="51.03" r="2.6" fill="#4472c4"/>
<circle cx="537.4" cy="51.03" r="2.6" fill="#4472c4"/>
<circle cx="566.2" cy="51.03" r="2.6" fill="#ff0000"/>
<circle cx="515.6" cy="56.67" r="2.6" fill="#ff0000"/>
<circle cx="539.4" cy="56.67" r="2.6" fill="#4472c4"/>
<circle cx="542.6" cy="56.67" r="2.6" fill="#4472c4"/>
<circle cx="566.2" cy="56.67" r="2.6" fill="#ff0000"/>
<circle cx="573.8" cy="62.31" r="2.6" fill="#ff0000"/>
<circle cx="594.4" cy="62.31" r="2.6" fill="#4472c4"/>
<circle cx="597.0" cy="62.31" r="2.6" fill="#4472c4"/>
<circle cx="665.2" cy="62.31" r="2.6" fill="#ff0000"/>
<circle cx="545.8" cy="67.95" r="2.6" fill="#ff0000"/>
<circle cx="607.0" cy="67.95" r="2.6" fill="#4472c4"/>
<circle cx="642.2" cy="67.95" r="2.6" fill="#4472c4"/>
<circle cx="659.6" cy="67.95" r="2.6" fill="#4472c4"/>
<circle cx="662.6" cy="67.95" r="2.6" fill="#ff0000"/>
<circle cx="439.4" cy="73.58" r="2.6" fill="#4472c4"/>
<circle cx="472.4" cy="73.58" r="2.6" fill="#4472c4"/>
<circle cx="523.2" cy="73.58" r="2.6" fill="#4472c4"/>
<circle cx="548.0" cy="73.58" r="2.6" fill="#ff0000"/>
<circle cx="566.2" cy="73.58" r="2.6" fill="#ff0000"/>
<circle cx="533.4" cy="79.22" r="2.6" fill="#4472c4"/>
<circle cx="548.6" cy="79.22" r="2.6" fill="#4472c4"/>
<circle cx="563.6" cy="79.22" r="2.6" fill="#ff0000"/>
<circle cx="632.2" cy="79.22" r="2.6" fill="#4472c4"/>
<circle cx="642.2" cy="79.22" r="2.6" fill="#ff0000"/>
<circle cx="317.8" cy="84.86" r="2.6" fill="#4472c4"/>
<circle cx="411.4" cy="84.86" r="2.6" fill="#4472c4"/>
<circle cx="508.2" cy="84.86" r="2.6" fill="#4472c4"/>
<circle cx="568.6" cy="84.86" r="2.6" fill="#ff0000"/>
<circle cx="604.4" cy="84.86" r="2.6" fill="#ff0000"/>
<circle cx="394.0" cy="90.49" r="2.6" fill="#4472c4"/>
<circle cx="411.4" cy="90.49" r="2.6" fill="#4472c4"/>
<circle cx="434.4" cy="90.49" r="2.6" fill="#ff0000"/>
<circle cx="465.0" cy="90.49" r="2.6" fill="#4472c4"/>
<circle cx="495.2" cy="90.49" r="2.6" fill="#4472c4"/>
<circle cx="556.0" cy="90.49" r="2.6" fill="#ff0000"/>
<circle cx="292.4" cy="96.13" r="2.6" fill="#4472c4"/>
<circle cx="350.8" cy="96.13" r="2.6" fill="#ff0000"/>
<circle cx="503.2" cy="96.13" r="2.6" fill="#4472c4"/>
<circle cx="518.4" cy="96.13" r="2.6" fill="#4472c4"/>
<circle cx="538.4" cy="96.13" r="2.6" fill="#4472c4"/>
<circle cx="566.2" cy="96.13" r="2.6" fill="#ff0000"/>
<circle cx="568.6" cy="101.77" r="2.6" fill="#ff0000"/>
<circle cx="584.0" cy="101.77" r="2.6" fill="#4472c4"/>
<circle cx="599.2" cy="101.77" r="2.6" fill="#4472c4"/>
<circle cx="629.6" cy="101.77" r="2.6" fill="#4472c4"/>
<circle cx="658.2" cy="101.77" r="2.6" fill="#4472c4"/>
<circle cx="661.4" cy="101.77" r="2.6" fill="#4472c4"/>
<circle cx="545.8" cy="107.41" r="2.6" fill="#ff0000"/>
<circle cx="568.6" cy="107.41" r="2.6" fill="#4472c4"/>
<circle cx="578.8" cy="107.41" r="2.6" fill="#ff0000"/>
<circle cx="594.2" cy="107.41" r="2.6" fill="#4472c4"/>
<circle cx="609.4" cy="107.41" r="2.6" fill="#4472c4"/>
<circle cx="639.8" cy="107.41" r="2.6" fill="#4472c4"/>
<circle cx="670.0" cy="107.41" r="2.6" fill="#4472c4"/>
<circle cx="376.0" cy="113.04" r="2.6" fill="#4472c4"/>
<circle cx="434.4" cy="113.04" r="2.6" fill="#ff0000"/>
<circle cx="462.4" cy="113.04" r="2.6" fill="#4472c4"/>
<circle cx="495.2" cy="113.04" r="2.6" fill="#4472c4"/>
<circle cx="525.8" cy="113.04" r="2.6" fill="#4472c4"/>
<circle cx="540.6" cy="113.04" r="2.6" fill="#4472c4"/>
<circle cx="563.6" cy="113.04" r="2.6" fill="#ff0000"/>
<circle cx="457.4" cy="118.68" r="2.6" fill="#4472c4"/>
<circle cx="475.2" cy="118.68" r="2.6" fill="#4472c4"/>
<circle cx="487.6" cy="118.68" r="2.6" fill="#4472c4"/>
<circle cx="505.4" cy="118.68" r="2.6" fill="#4472c4"/>
<circle cx="523.2" cy="118.68" r="2.6" fill="#4472c4"/>
<circle cx="545.8" cy="118.68" r="2.6" fill="#ff0000"/>
<circle cx="563.6" cy="118.68" r="2.6" fill="#4472c4"/>
<circle cx="594.2" cy="118.68" r="2.6" fill="#ff0000"/>
<circle cx="287.6" cy="124.32" r="2.6" fill="#4472c4"/>
<circle cx="317.8" cy="124.32" r="2.6" fill="#4472c4"/>
<circle cx="348.4" cy="124.32" r="2.6" fill="#4472c4"/>
<circle cx="381.0" cy="124.32" r="2.6" fill="#4472c4"/>
<circle cx="411.0" cy="124.32" r="2.6" fill="#ff0000"/>
<circle cx="510.6" cy="124.32" r="2.6" fill="#4472c4"/>
<circle cx="543.4" cy="124.32" r="2.6" fill="#4472c4"/>
<circle cx="568.6" cy="124.32" r="2.6" fill="#ff0000"/>
<circle cx="279.6" cy="129.95" r="2.6" fill="#4472c4"/>
<circle cx="300.4" cy="129.95" r="2.6" fill="#4472c4"/>
<circle cx="325.2" cy="129.95" r="2.6" fill="#ff0000"/>
<circle cx="546.0" cy="129.95" r="2.6" fill="#4472c4"/>
<circle cx="553.6" cy="129.95" r="2.6" fill="#4472c4"/>
<circle cx="576.4" cy="129.95" r="2.6" fill="#ff0000"/>
<circle cx="637.2" cy="129.95" r="2.6" fill="#4472c4"/>
<circle cx="657.6" cy="129.95" r="2.6" fill="#4472c4"/>
<circle cx="442.0" cy="135.59" r="2.6" fill="#ff0000"/>
<circle cx="533.0" cy="135.59" r="2.6" fill="#ff0000"/>
<circle cx="571.4" cy="135.59" r="2.6" fill="#4472c4"/>
<circle cx="576.4" cy="135.59" r="2.6" fill="#ff0000"/>
<circle cx="624.4" cy="135.59" r="2.6" fill="#4472c4"/>
<circle cx="627.0" cy="135.59" r="2.6" fill="#4472c4"/>
<circle cx="652.4" cy="135.59" r="2.6" fill="#4472c4"/>
<circle cx="667.8" cy="135.59" r="2.6" fill="#4472c4"/>
<circle cx="320.4" cy="141.23" r="2.6" fill="#4472c4"/>
<circle cx="338.2" cy="141.23" r="2.6" fill="#4472c4"/>
<circle cx="353.4" cy="141.23" r="2.6" fill="#4472c4"/>
<circle cx="371.0" cy="141.23" r="2.6" fill="#ff0000"/>
<circle cx="399.0" cy="141.23" r="2.6" fill="#4472c4"/>
<circle cx="449.6" cy="141.23" r="2.6" fill="#4472c4"/>
<circle cx="487.6" cy="141.23" r="2.6" fill="#4472c4"/>
<circle cx="523.2" cy="141.23" r="2.6" fill="#4472c4"/>
<circle cx="546.0" cy="141.23" r="2.6" fill="#ff0000"/>
<circle cx="297.4" cy="146.86" r="2.6" fill="#4472c4"/>
<circle cx="411.4" cy="146.86" r="2.6" fill="#4472c4"/>
<circle cx="449.6" cy="146.86" r="2.6" fill="#4472c4"/>
<circle cx="477.4" cy="146.86" r="2.6" fill="#4472c4"/>
<circle cx="500.4" cy="146.86" r="2.6" fill="#4472c4"/>
<circle cx="528.4" cy="146.86" r="2.6" fill="#4472c4"/>
<circle cx="568.6" cy="146.86" r="2.6" fill="#ff0000"/>
<circle cx="633.0" cy="146.86" r="2.6" fill="#4472c4"/>
<circle cx="636.0" cy="146.86" r="2.6" fill="#ff0000"/>
<circle cx="389.0" cy="152.50" r="2.6" fill="#4472c4"/>
<circle cx="404.0" cy="152.50" r="2.6" fill="#4472c4"/>
<circle cx="432.0" cy="152.50" r="2.6" fill="#4472c4"/>
<circle cx="462.4" cy="152.50" r="2.6" fill="#4472c4"/>
<circle cx="477.4" cy="152.50" r="2.6" fill="#4472c4"/>
<circle cx="497.8" cy="152.50" r="2.6" fill="#4472c4"/>
<circle cx="523.2" cy="152.50" r="2.6" fill="#4472c4"/>
<circle cx="566.2" cy="152.50" r="2.6" fill="#ff0000"/>
<circle cx="584.0" cy="152.50" r="2.6" fill="#ff0000"/>
<circle cx="290.0" cy="158.14" r="2.6" fill="#4472c4"/>
<circle cx="310.4" cy="158.14" r="2.6" fill="#4472c4"/>
<circle cx="345.6" cy="158.14" r="2.6" fill="#4472c4"/>
<circle cx="368.6" cy="158.14" r="2.6" fill="#4472c4"/>
<circle cx="389.0" cy="158.14" r="2.6" fill="#4472c4"/>
<circle cx="411.4" cy="158.14" r="2.6" fill="#4472c4"/>
<circle cx="434.4" cy="158.14" r="2.6" fill="#4472c4"/>
<circle cx="452.2" cy="158.14" r="2.6" fill="#4472c4"/>
<circle cx="495.2" cy="158.14" r="2.6" fill="#ff0000"/>
<circle cx="523.2" cy="158.14" r="2.6" fill="#4472c4"/>
<circle cx="526.0" cy="158.14" r="2.6" fill="#4472c4"/>
<circle cx="561.0" cy="158.14" r="2.6" fill="#ff0000"/>
<circle cx="340.4" cy="163.77" r="2.6" fill="#ff0000"/>
<circle cx="358.4" cy="163.77" r="2.6" fill="#4472c4"/>
<circle cx="376.2" cy="163.77" r="2.6" fill="#4472c4"/>
<circle cx="419.4" cy="163.77" r="2.6" fill="#4472c4"/>
<circle cx="434.4" cy="163.77" r="2.6" fill="#4472c4"/>
<circle cx="454.8" cy="163.77" r="2.6" fill="#4472c4"/>
<circle cx="470.0" cy="163.77" r="2.6" fill="#4472c4"/>
<circle cx="510.6" cy="163.77" r="2.6" fill="#4472c4"/>
<circle cx="533.4" cy="163.77" r="2.6" fill="#4472c4"/>
<circle cx="548.0" cy="163.77" r="2.6" fill="#4472c4"/>
<circle cx="571.2" cy="163.77" r="2.6" fill="#ff0000"/>
<circle cx="629.4" cy="163.77" r="2.6" fill="#ff0000"/>
<circle cx="292.4" cy="169.41" r="2.6" fill="#4472c4"/>
<circle cx="307.6" cy="169.41" r="2.6" fill="#4472c4"/>
<circle cx="330.4" cy="169.41" r="2.6" fill="#4472c4"/>
<circle cx="353.4" cy="169.41" r="2.6" fill="#4472c4"/>
<circle cx="447.2" cy="169.41" r="2.6" fill="#4472c4"/>
<circle cx="477.4" cy="169.41" r="2.6" fill="#ff0000"/>
<circle cx="503.0" cy="169.41" r="2.6" fill="#4472c4"/>
<circle cx="505.4" cy="169.41" r="2.6" fill="#4472c4"/>
<circle cx="528.4" cy="169.41" r="2.6" fill="#4472c4"/>
<circle cx="547.4" cy="169.41" r="2.6" fill="#4472c4"/>
<circle cx="568.6" cy="169.41" r="2.6" fill="#ff0000"/>
<circle cx="634.6" cy="169.41" r="2.6" fill="#4472c4"/>
<circle cx="497.8" cy="175.05" r="2.6" fill="#4472c4"/>
<circle cx="515.6" cy="175.05" r="2.6" fill="#4472c4"/>
<circle cx="531.0" cy="175.05" r="2.6" fill="#4472c4"/>
<circle cx="545.8" cy="175.05" r="2.6" fill="#ff0000"/>
<circle cx="560.0" cy="175.05" r="2.6" fill="#4472c4"/>
<circle cx="562.6" cy="175.05" r="2.6" fill="#4472c4"/>
<circle cx="576.4" cy="175.05" r="2.6" fill="#4472c4"/>
<circle cx="591.2" cy="175.05" r="2.6" fill="#ff0000"/>
<circle cx="604.4" cy="175.05" r="2.6" fill="#4472c4"/>
<circle cx="607.0" cy="175.05" r="2.6" fill="#4472c4"/>
<circle cx="622.2" cy="175.05" r="2.6" fill="#4472c4"/>
<circle cx="637.2" cy="175.05" r="2.6" fill="#4472c4"/>
<circle cx="652.4" cy="175.05" r="2.6" fill="#4472c4"/>
<circle cx="292.4" cy="180.69" r="2.6" fill="#4472c4"/>
<circle cx="325.4" cy="180.69" r="2.6" fill="#4472c4"/>
<circle cx="363.4" cy="180.69" r="2.6" fill="#4472c4"/>
<circle cx="389.0" cy="180.69" r="2.6" fill="#4472c4"/>
<circle cx="424.4" cy="180.69" r="2.6" fill="#4472c4"/>
<circle cx="444.5" cy="180.69" r="2.6" fill="#4472c4"/>
<circle cx="480.2" cy="180.69" r="2.6" fill="#4472c4"/>
<circle cx="523.2" cy="180.69" r="2.6" fill="#4472c4"/>
<circle cx="548.0" cy="180.69" r="2.6" fill="#4472c4"/>
<circle cx="566.2" cy="180.69" r="2.6" fill="#ff0000"/>
<circle cx="597.6" cy="180.69" r="2.6" fill="#4472c4"/>
<circle cx="600.4" cy="180.69" r="2.6" fill="#ff0000"/>
<circle cx="630.6" cy="180.69" r="2.6" fill="#4472c4"/>
<circle cx="633.2" cy="180.69" r="2.6" fill="#ff0000"/>
<circle cx="287.4" cy="186.32" r="2.6" fill="#4472c4"/>
<circle cx="302.6" cy="186.32" r="2.6" fill="#4472c4"/>
<circle cx="335.4" cy="186.32" r="2.6" fill="#4472c4"/>
<circle cx="350.6" cy="186.32" r="2.6" fill="#4472c4"/>
<circle cx="366.0" cy="186.32" r="2.6" fill="#4472c4"/>
<circle cx="381.0" cy="186.32" r="2.6" fill="#4472c4"/>
<circle cx="399.0" cy="186.32" r="2.6" fill="#4472c4"/>
<circle cx="416.6" cy="186.32" r="2.6" fill="#4472c4"/>
<circle cx="437.0" cy="186.32" r="2.6" fill="#ff0000"/>
<circle cx="467.4" cy="186.32" r="2.6" fill="#4472c4"/>
<circle cx="482.6" cy="186.32" r="2.6" fill="#4472c4"/>
<circle cx="500.4" cy="186.32" r="2.6" fill="#4472c4"/>
<circle cx="515.6" cy="186.32" r="2.6" fill="#4472c4"/>
<circle cx="531.0" cy="186.32" r="2.6" fill="#ff0000"/>
<circle cx="545.5" cy="186.32" r="2.6" fill="#4472c4"/>
<circle cx="547.8" cy="186.32" r="2.6" fill="#ff0000"/>
<circle cx="302.6" cy="191.96" r="2.6" fill="#ff0000"/>
<circle cx="333.0" cy="191.96" r="2.6" fill="#4472c4"/>
<circle cx="371.0" cy="191.96" r="2.6" fill="#4472c4"/>
<circle cx="389.0" cy="191.96" r="2.6" fill="#4472c4"/>
<circle cx="429.4" cy="191.96" r="2.6" fill="#4472c4"/>
<circle cx="454.8" cy="191.96" r="2.6" fill="#4472c4"/>
<circle cx="485.2" cy="191.96" r="2.6" fill="#4472c4"/>
<circle cx="510.4" cy="191.96" r="2.6" fill="#ff0000"/>
<circle cx="545.6" cy="191.96" r="2.6" fill="#4472c4"/>
<circle cx="556.0" cy="191.96" r="2.6" fill="#4472c4"/>
<circle cx="558.4" cy="191.96" r="2.6" fill="#4472c4"/>
<circle cx="566.2" cy="191.96" r="2.6" fill="#ff0000"/>
<circle cx="593.5" cy="191.96" r="2.6" fill="#4472c4"/>
<circle cx="596.3" cy="191.96" r="2.6" fill="#ff0000"/>
<circle cx="644.7" cy="191.96" r="2.6" fill="#4472c4"/>
<circle cx="647.2" cy="191.96" r="2.6" fill="#4472c4"/>
<circle cx="667.8" cy="191.96" r="2.6" fill="#4472c4"/>
<circle cx="497.8" cy="197.60" r="2.6" fill="#4472c4"/>
<circle cx="515.5" cy="197.60" r="2.6" fill="#4472c4"/>
<circle cx="545.5" cy="197.60" r="2.6" fill="#4472c4"/>
<circle cx="561.3" cy="197.60" r="2.6" fill="#4472c4"/>
<circle cx="571.0" cy="197.60" r="2.6" fill="#4472c4"/>
<circle cx="576.2" cy="197.60" r="2.6" fill="#ff0000"/>
<circle cx="590.0" cy="197.60" r="2.6" fill="#4472c4"/>
<circle cx="592.3" cy="197.60" r="2.6" fill="#4472c4"/>
<circle cx="601.2" cy="197.60" r="2.6" fill="#4472c4"/>
<circle cx="604.2" cy="197.60" r="2.6" fill="#4472c4"/>
<circle cx="607.0" cy="197.60" r="2.6" fill="#4472c4"/>
<circle cx="617.0" cy="197.60" r="2.6" fill="#4472c4"/>
<circle cx="627.0" cy="197.60" r="2.6" fill="#4472c4"/>
<circle cx="632.3" cy="197.60" r="2.6" fill="#4472c4"/>
<circle cx="642.3" cy="197.60" r="2.6" fill="#ff0000"/>
<circle cx="649.6" cy="197.60" r="2.6" fill="#4472c4"/>
<circle cx="652.2" cy="197.60" r="2.6" fill="#4472c4"/>
<circle cx="670.0" cy="197.60" r="2.6" fill="#4472c4"/>
<circle cx="535.8" cy="203.23" r="2.6" fill="#4472c4"/>
<circle cx="543.0" cy="203.23" r="2.6" fill="#ff0000"/>
<circle cx="552.0" cy="203.23" r="2.6" fill="#4472c4"/>
<circle cx="555.0" cy="203.23" r="2.6" fill="#4472c4"/>
<circle cx="558.0" cy="203.23" r="2.6" fill="#4472c4"/>
<circle cx="571.0" cy="203.23" r="2.6" fill="#4472c4"/>
<circle cx="576.2" cy="203.23" r="2.6" fill="#4472c4"/>
<circle cx="586.3" cy="203.23" r="2.6" fill="#4472c4"/>
<circle cx="588.7" cy="203.23" r="2.6" fill="#4472c4"/>
<circle cx="591.3" cy="203.23" r="2.6" fill="#4472c4"/>
<circle cx="596.6" cy="203.23" r="2.6" fill="#4472c4"/>
<circle cx="598.6" cy="203.23" r="2.6" fill="#4472c4"/>
<circle cx="609.5" cy="203.23" r="2.6" fill="#4472c4"/>
<circle cx="612.1" cy="203.23" r="2.6" fill="#4472c4"/>
<circle cx="622.2" cy="203.23" r="2.6" fill="#ff0000"/>
<circle cx="627.4" cy="203.23" r="2.6" fill="#4472c4"/>
<circle cx="630.3" cy="203.23" r="2.6" fill="#4472c4"/>
<circle cx="637.3" cy="203.23" r="2.6" fill="#4472c4"/>
<circle cx="649.8" cy="203.23" r="2.6" fill="#4472c4"/>
<circle cx="654.8" cy="203.23" r="2.6" fill="#ff0000"/>
<circle cx="662.1" cy="203.23" r="2.6" fill="#4472c4"/>
<circle cx="665.1" cy="203.23" r="2.6" fill="#4472c4"/>
<circle cx="667.7" cy="203.23" r="2.6" fill="#4472c4"/>
<circle cx="672.4" cy="203.23" r="2.6" fill="#4472c4"/>
<circle cx="675.4" cy="203.23" r="2.6" fill="#ff0000"/>
</g>
</svg>
</body></html>
